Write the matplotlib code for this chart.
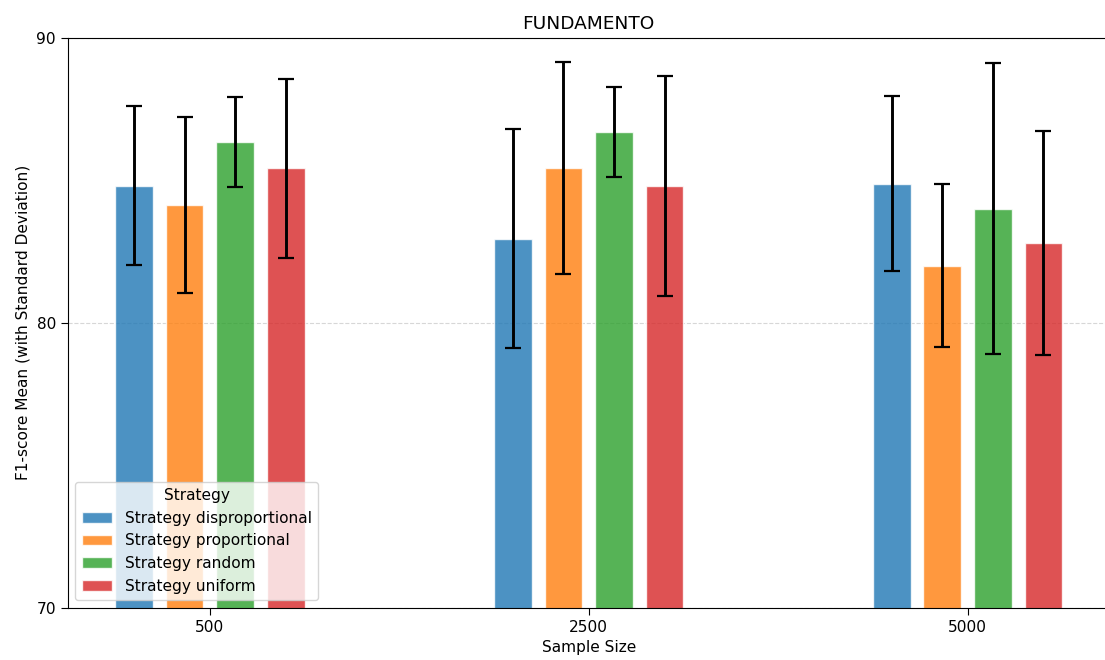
import matplotlib.pyplot as plt
import numpy as np

sample_sizes = ["500", "2500", "5000"]
strategies = ["disproportional", "proportional", "random", "uniform"]

# mean F1-score per strategy, one value per sample size
f1_mean = {
    "disproportional": [84.81, 82.95, 84.88],
    "proportional": [84.13, 85.43, 82.00],
    "random": [86.34, 86.68, 84.00],
    "uniform": [85.42, 84.80, 82.81],
}
f1_std = {
    "disproportional": [2.80, 3.84, 3.07],
    "proportional": [3.10, 3.71, 2.86],
    "random": [1.58, 1.58, 5.10],
    "uniform": [3.14, 3.87, 3.93],
}
colors = ["tab:blue", "tab:orange", "tab:green", "tab:red"]

fs = 11.1
fig = plt.figure(figsize=(11.05, 6.6), dpi=100)
ax = fig.add_axes([67.7 / 1105, 1 - 607.7 / 660, (1109.8 - 67.7) / 1105, (607.7 - 37.7) / 660])

x = np.arange(len(sample_sizes))
width = 0.1
step = 0.1333
for i, s in enumerate(strategies):
    offset = (i - 1.5) * step
    ax.bar(x + offset, f1_mean[s], width, yerr=f1_std[s], color=colors[i], alpha=0.8,
           edgecolor="white", linewidth=1, label=f"Strategy {s}",
           error_kw=dict(ecolor="black", elinewidth=2.1, capsize=5.6, capthick=1.6))

ax.set_xlim(-0.375, 2.375)
ax.set_ylim(70, 90)
ax.set_yticks([70, 80, 90])
ax.set_xticks(x)
ax.set_xticklabels(sample_sizes)
ax.tick_params(labelsize=fs, length=5)
ax.yaxis.grid(True, linestyle="--", color="lightgray", alpha=0.9)
ax.set_axisbelow(True)

ax.set_title("FUNDAMENTO", fontsize=13.3)
ax.set_xlabel("Sample Size", fontsize=fs)
ax.set_ylabel("F1-score Mean (with Standard Deviation)", fontsize=fs)
ax.legend(title="Strategy", loc="lower left", fontsize=fs, title_fontsize=fs)

plt.savefig("out.png", dpi=100)
